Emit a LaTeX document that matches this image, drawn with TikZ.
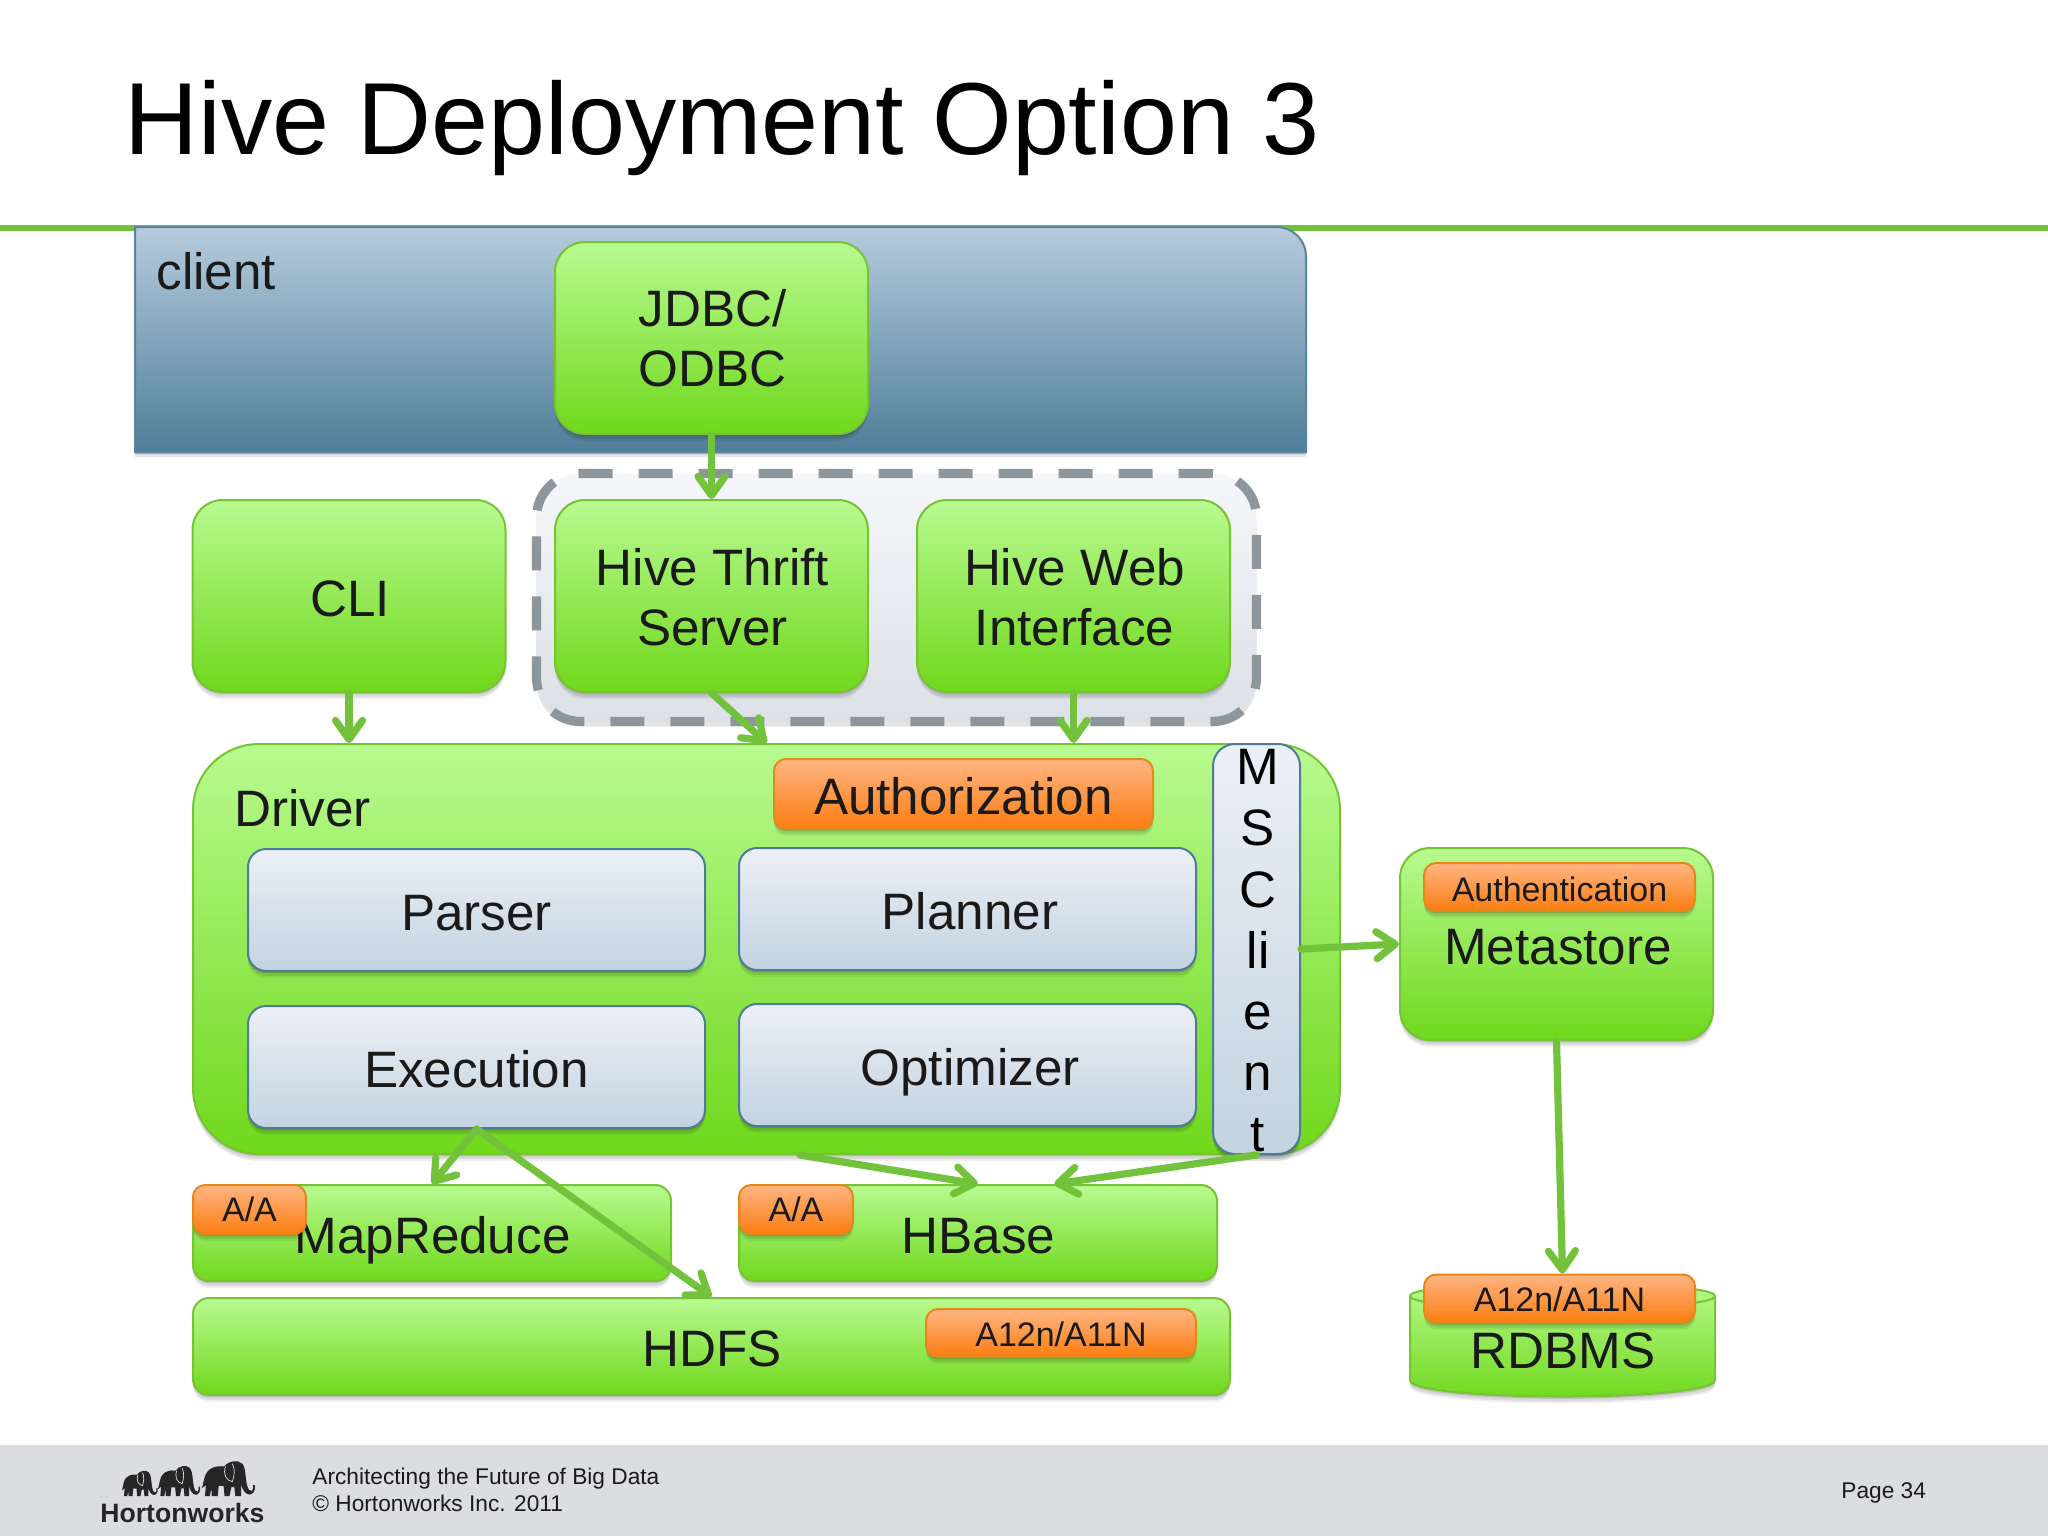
\documentclass[tikz,border=0pt]{standalone}
\usepackage{fontspec}
\setmainfont{Liberation Sans}
\usetikzlibrary{shadows,arrows.meta,calc}
\definecolor{gtop}{HTML}{B8FA90}
\definecolor{gbot}{HTML}{70D81C}
\definecolor{gedge}{HTML}{78C236}
\definecolor{btop}{HTML}{EBF0F6}
\definecolor{bbot}{HTML}{C3D3E0}
\definecolor{bedge}{HTML}{4F7A99}
\definecolor{otop}{HTML}{FFB583}
\definecolor{obot}{HTML}{FB7D10}
\definecolor{oedge}{HTML}{E8861A}
\definecolor{arrowg}{HTML}{72C23C}
\definecolor{txt}{HTML}{1A1A1A}
\definecolor{footbg}{HTML}{DCDDE0}
\newcommand\bigf{\fontsize{25.6}{30}\selectfont}
\newcommand\smallf{\fontsize{17}{20}\selectfont}
\tikzset{
  softshadow/.style={
    general shadow={shadow yshift=-3.5pt,fill=black,opacity=.06},
    general shadow={shadow yshift=-2.5pt,fill=black,opacity=.09},
    general shadow={shadow yshift=-1.2pt,fill=black,opacity=.12},
  },
  greenbox/.style={draw=gedge,line width=1pt,top color=gtop,bottom color=gbot,
    softshadow,text=txt,font=\bigf,align=center,inner sep=0pt},
  bluebox/.style={draw=bedge,line width=1pt,top color=btop,bottom color=bbot,
    softshadow,text=txt,font=\bigf,align=center,inner sep=0pt,rounded corners=9pt,
    minimum width=228.5pt,minimum height=61pt,text height=20pt,text depth=0pt},
  orangebox/.style={draw=oedge,line width=1pt,top color=otop,bottom color=obot,
    softshadow,text=txt,font=\smallf,align=center,inner sep=0pt,rounded corners=6pt},
  bigtile/.style={greenbox,rounded corners=15pt,minimum width=156.5pt,minimum height=96pt},
  flat/.style={greenbox,rounded corners=8pt},
  label/.style={text=txt,font=\bigf,inner sep=0pt,align=center},
  flow/.style={draw=arrowg,line width=3.6pt,line cap=round,
    -{Straight Barb[round,length=9.5pt,width=13.5pt]}},
  logo/.style={fill=black!85},
  footnote/.style={anchor=base west,inner sep=0pt,font=\fontsize{11.35}{13.5}\selectfont,text=txt},
}
\newcommand\elephant{%
  \fill[logo] (0.06,0) -- (0.08,0.3) -- (0.0,0.22) -- (0.05,0.5)
    .. controls (0.1,0.8) and (0.3,0.85) .. (0.45,0.82)
    .. controls (0.55,0.98) and (0.72,1.02) .. (0.82,0.9)
    .. controls (0.9,0.78) and (0.88,0.5) .. (0.92,0.3)
    .. controls (0.94,0.18) and (0.98,0.12) .. (1.02,0.14)
    .. controls (1.05,0.18) and (1.05,0.26) .. (1.04,0.3)
    -- (1.08,0.3) .. controls (1.1,0.12) and (1.02,0.03) .. (0.96,0.04)
    .. controls (0.88,0.06) and (0.82,0.18) .. (0.8,0.32)
    -- (0.8,0) -- (0.68,0) -- (0.66,0.25) -- (0.6,0.25) -- (0.56,0)
    -- (0.46,0) -- (0.44,0.28) -- (0.34,0.28) -- (0.32,0) -- (0.2,0)
    -- (0.19,0.22) -- (0.16,0) -- cycle;
  \draw[draw=footbg,line width=.35pt] (0.48,0.82) .. controls (0.42,0.6) and (0.5,0.42) .. (0.62,0.4)
    .. controls (0.66,0.55) and (0.68,0.75) .. (0.62,0.9);
}
\begin{document}
\begin{tikzpicture}[x=0.5pt,y=-0.5pt]
\useasboundingbox (0,0) rectangle (2048,1536);
% footer and rule
\fill[footbg] (0,1445) rectangle (2048,1536);
\draw[draw=arrowg,line width=3pt] (0,227.5) -- (2048,227.5);
\node[anchor=base west,inner sep=0pt,font=\fontsize{51.2}{60}\selectfont,text=black] (title) at (124,154.5) {Hive Deployment Option 3};
% client band
\path[draw={rgb,255:red,91;green,131;blue,160},line width=1pt,top color={rgb,255:red,182;green,203;blue,221},bottom color={rgb,255:red,79;green,126;blue,152},
  general shadow={shadow yshift=-2.5pt,fill=black,opacity=.10},
  general shadow={shadow yshift=-1.2pt,fill=black,opacity=.2}]
  (135,452) -- (135,227) -- (1276,227) .. controls (1293,227) and (1306,240) .. (1306,257) -- (1306,452) -- cycle;
\node[label,anchor=base west] (client) at (156,289) {client};
% dashed group
\node[draw={rgb,255:red,141;green,150;blue,156},line width=4.6pt,dash pattern=on 17pt off 13pt,rounded corners=22pt,
  top color={rgb,255:red,245;green,246;blue,249},bottom color={rgb,255:red,220;green,225;blue,231},
  general shadow={shadow yshift=-2.5pt,fill=black,opacity=.10},
  minimum width=360pt,minimum height=124pt,inner sep=0pt] (group) at (896.5,597.5) {};
% top tiles
\node[bigtile] (jdbc) at (711.5,338) {};
\node[label] (jdbctext) at (712.5,338.5) {JDBC/\\ODBC};
\node[bigtile] (cli) at (349,596) {};
\node[label] (clitext) at (350,598.5) {CLI};
\node[bigtile] (thrift) at (711.5,596) {};
\node[label] (thrifttext) at (712.5,597) {Hive Thrift\\Server};
\node[bigtile] (web) at (1073.5,596) {};
\node[label] (webtext) at (1074.5,597) {Hive Web\\Interface};
% driver
\node[greenbox,rounded corners=33pt,minimum width=573.5pt,minimum height=205pt] (driver) at (766.5,949) {};
\node[label,anchor=base west] (drivertext) at (234,826) {Driver};
\node[orangebox,font=\bigf,minimum width=189.5pt,minimum height=35pt,text height=20pt,text depth=0pt] (authz) at (963.5,794) {Authorization};
\node[bluebox] (parser) at (476.5,910) {Parser};
\node[bluebox] (planner) at (967.5,909) {\hspace*{2.5pt}Planner};
\node[bluebox] (execution) at (476.5,1067) {Execution};
\node[bluebox] (optimizer) at (967.5,1065) {\hspace*{2.5pt}Optimizer};
\node[draw=bedge,line width=1pt,top color=btop,bottom color=bbot,rounded corners=11pt,inner sep=0pt,
  softshadow,minimum width=43.5pt,minimum height=205pt] (msclient) at (1256.5,949) {};
\node[text=black,font=\fontsize{25.6}{30.6}\selectfont,align=center,inner sep=0pt,anchor=north] (mstext) at (1258,749) {M\\S\\C\\li\\e\\n\\t};
% metastore
\node[bigtile] (metastore) at (1556.5,944) {};
\node[orangebox,minimum width=135.5pt,minimum height=24pt,text height=14.4pt,text depth=0pt] (authn) at (1559.5,887) {Authentication};
\node[label] (metatext) at (1558,947) {Metastore};
% rdbms
\path[draw=gedge,line width=1pt,top color=gtop,bottom color=gbot,softshadow]
  (1410,1296) .. controls (1410,1279) and (1715,1279) .. (1715,1296) -- (1715,1380)
  .. controls (1715,1402) and (1410,1402) .. (1410,1380) -- cycle;
\draw[draw=gedge,line width=1pt] (1410,1296) .. controls (1410,1313) and (1715,1313) .. (1715,1296);
\node[orangebox,minimum width=135.5pt,minimum height=24pt,text height=13.4pt,text depth=0pt] (acl) at (1559.5,1298.5) {A12n/A11N};
\node[label] (rdbmstext) at (1563,1351) {RDBMS};
% lower tiles
\node[flat,minimum width=239pt,minimum height=48pt] (mapreduce) at (432,1233) {};
\node[label] (mrtext) at (432.5,1240) {MapReduce};
\node[orangebox,minimum width=56.5pt,minimum height=24.5pt] (aa1) at (249.5,1209.5) {A/A};
\node[flat,minimum width=239pt,minimum height=48pt] (hbase) at (978,1233) {};
\node[label] (hbtext) at (978.5,1236) {HBase};
\node[orangebox,minimum width=57pt,minimum height=24.5pt] (aa2) at (796,1209.5) {A/A};
\node[flat,minimum width=518.5pt,minimum height=48.5pt] (hdfs) at (711.5,1346.5) {};
\node[label] (hdfstext) at (712,1349) {HDFS};
\node[orangebox,minimum width=135pt,minimum height=24pt,text height=13.4pt,text depth=0pt] (acl2) at (1061,1333) {A12n/A11N};
% connectors
\draw[flow] (jdbc.south) -- (thrift.north);
\draw[flow] (cli.south) -- (cli.south |- driver.north);
\draw[flow] (thrift.south) -- (driver.north);
\draw[flow] (web.south) -- (web.south |- driver.north);
\draw[flow] (msclient.east) -- (metastore.west);
\draw[flow] (metastore.south) -- ([xshift=1.5pt]acl.north);
\draw[flow] (execution.south) -- (mapreduce.north);
\draw[flow] (execution.south) -- (hdfs.north);
\draw[flow] ($(driver.south west)!0.529!(driver.south east)$) -- (hbase.north);
\draw[flow] (msclient.south) -- ($(hbase.north west)!0.659!(hbase.north east)$);
% footer content
\begin{scope}[shift={(122,1496)},x=16.5pt,y=13pt]\elephant\end{scope}
\begin{scope}[shift={(158,1496)},x=19.5pt,y=15.5pt]\elephant\end{scope}
\begin{scope}[shift={(202,1496)},x=24.5pt,y=18pt]\elephant\end{scope}
\node[anchor=base west,inner sep=0pt,font=\fontsize{13.3}{15}\bfseries\selectfont,text=black!85] (brand) at (100,1522) {Hortonworks};
\node[footnote] (foot1) at (312,1484) {Architecting the Future of Big Data};
\node[footnote] (foot2) at (312,1511) {© Hortonworks Inc. 2011};
\node[footnote] (page) at (1841,1498.5) {Page 34};
\end{tikzpicture}
\end{document}
